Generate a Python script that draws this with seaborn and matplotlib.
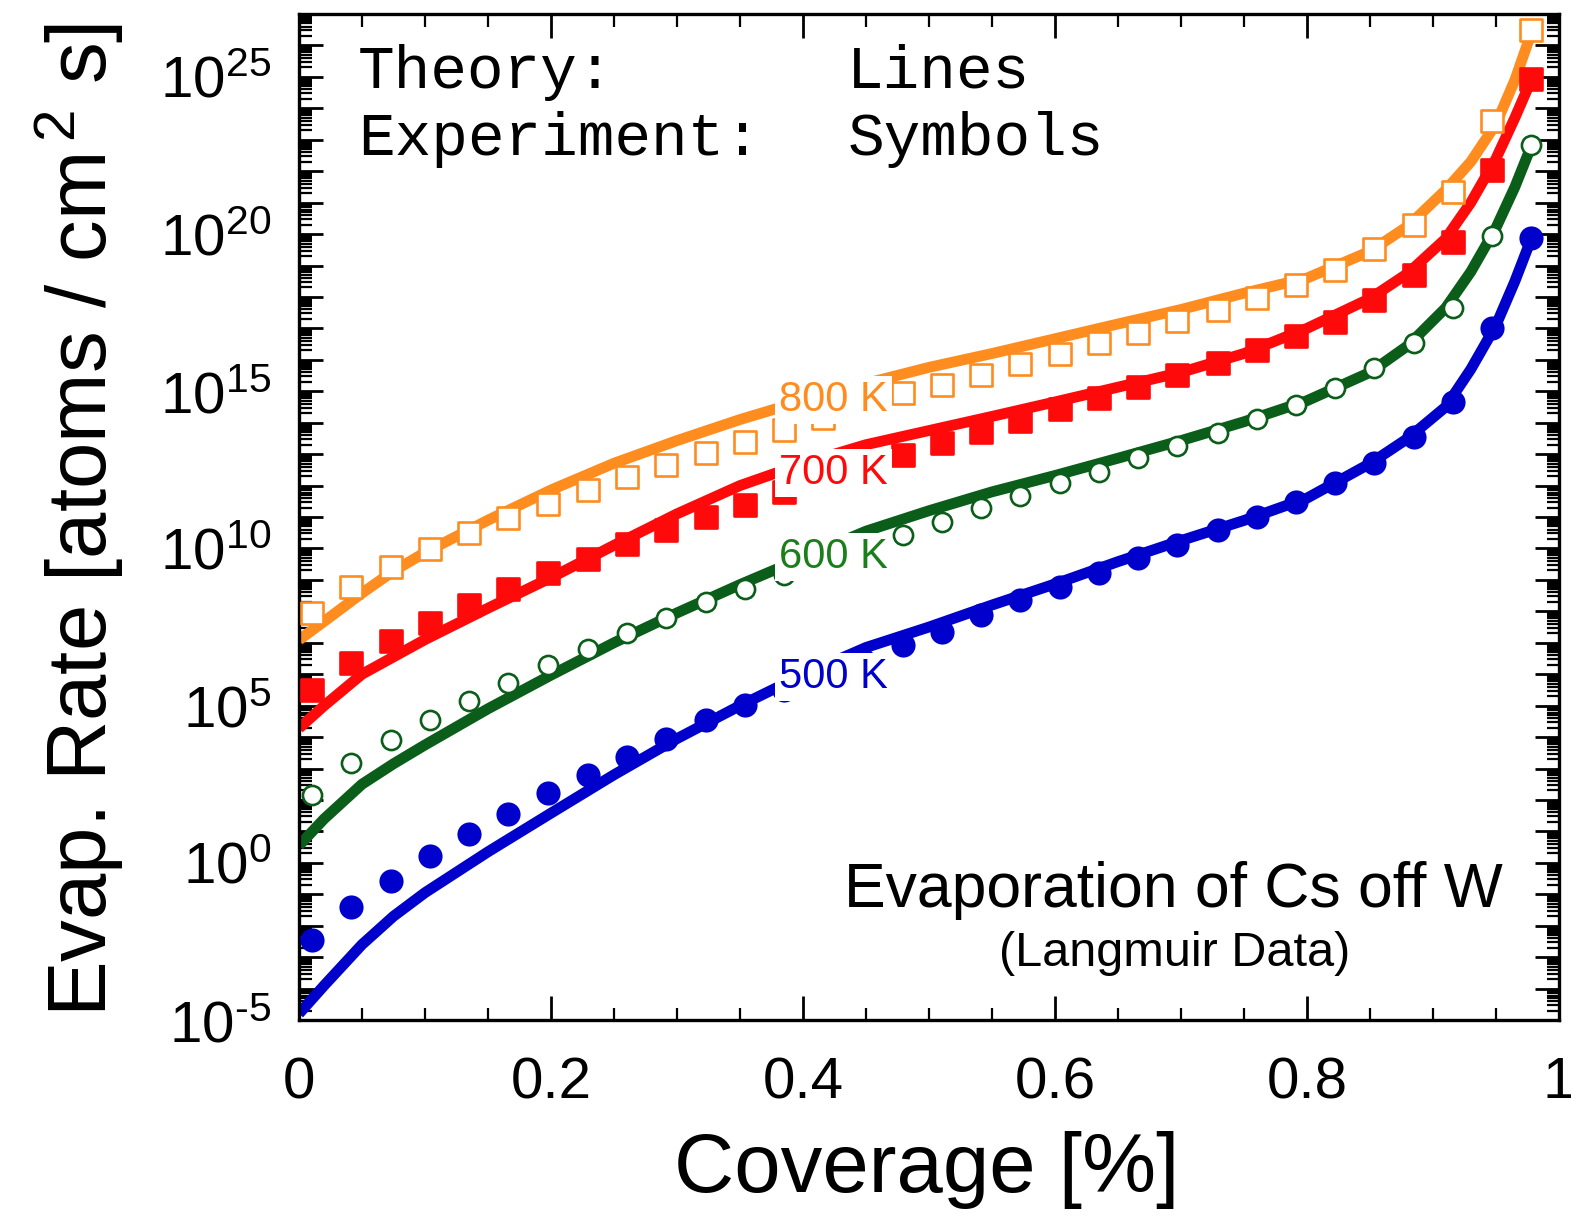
import numpy as np
import pandas as pd
import matplotlib
matplotlib.use('Agg')
import matplotlib.pyplot as plt
import seaborn as sns
from matplotlib.ticker import LogLocator, FuncFormatter, MultipleLocator, NullFormatter

# ---------------- data (log10 of evaporation rate) ----------------
marker_x = [0.010, 0.041, 0.073, 0.104, 0.135, 0.166, 0.198, 0.229, 0.260, 0.291,
            0.323, 0.354, 0.385, 0.416, 0.448, 0.479, 0.510, 0.541, 0.572, 0.604,
            0.635, 0.666, 0.697, 0.729, 0.760, 0.791, 0.822, 0.853, 0.885, 0.916,
            0.947, 0.978]
orange_pts = [7.95, 8.77, 9.41, 9.98, 10.49, 10.97, 11.42, 11.86, 12.28, 12.66,
              13.04, 13.39, 13.76, 14.14, 14.55, 14.94, 15.21, 15.53, 15.88, 16.19,
              16.54, 16.86, 17.25, 17.60, 17.98, 18.39, 18.87, 19.51, 20.30, 21.35,
              23.61, 26.48]
red_pts = [5.49, 6.35, 7.05, 7.63, 8.20, 8.71, 9.22, 9.67, 10.14, 10.59,
           11.00, 11.39, 11.80, 12.18, 12.60, 12.98, 13.36, 13.71, 14.06, 14.44,
           14.79, 15.14, 15.53, 15.91, 16.32, 16.75, 17.21, 17.91, 18.71, 19.76,
           22.05, 24.92]
green_pts = [2.15, 3.17, 3.90, 4.54, 5.14, 5.72, 6.29, 6.80, 7.31, 7.79,
             8.30, 8.71, 9.16, 9.57, 10.02, 10.43, 10.84, 11.29, 11.67, 12.09,
             12.44, 12.88, 13.26, 13.68, 14.12, 14.57, 15.11, 15.75, 16.54, 17.66,
             19.95, 22.82]
blue_pts = [-2.47, -1.42, -0.59, 0.21, 0.91, 1.54, 2.21, 2.79, 3.36, 3.93,
            4.54, 5.02, 5.49, 5.97, 6.45, 6.93, 7.34, 7.88, 8.36, 8.77,
            9.22, 9.70, 10.11, 10.59, 11.00, 11.48, 12.09, 12.72, 13.55, 14.67,
            17.02, 19.89]

line_x = [0.0, 0.02, 0.05, 0.075, 0.10, 0.15, 0.20, 0.25, 0.30, 0.35, 0.40, 0.45, 0.50,
          0.55, 0.60, 0.65, 0.70, 0.75, 0.80, 0.85, 0.88, 0.91, 0.93, 0.95, 0.965, 0.978]
orange_line = [7.09, 7.68, 8.58, 9.28, 9.87, 10.90, 11.86, 12.71, 13.43, 14.10, 14.70, 15.25, 15.76,
               16.20, 16.67, 17.14, 17.60, 18.12, 18.60, 19.45, 20.25, 21.40, 22.30, 23.50, 24.90, 26.40]
red_line = [4.28, 5.00, 6.00, 6.55, 7.10, 8.10, 9.07, 10.10, 11.10, 12.00, 12.70, 13.30, 13.75,
            14.20, 14.66, 15.13, 15.60, 16.20, 17.00, 17.95, 18.75, 19.85, 21.00, 22.40, 23.70, 24.90]
green_line = [0.55, 1.40, 2.50, 3.15, 3.75, 4.90, 5.97, 7.00, 7.95, 8.85, 9.70, 10.55, 11.20,
              11.80, 12.32, 12.87, 13.43, 14.03, 14.70, 15.60, 16.45, 17.65, 18.80, 20.20, 21.50, 22.80]
blue_line = [-4.80, -3.90, -2.60, -1.70, -0.95, 0.35, 1.58, 2.80, 3.95, 5.00, 5.98, 6.85, 7.50,
             8.20, 8.87, 9.58, 10.25, 10.89, 11.60, 12.70, 13.50, 14.50, 15.70, 17.10, 18.50, 19.85]

temps = ['800 K', '700 K', '600 K', '500 K']
label_log = [14.73, 12.40, 9.73, 5.91]

# ---------------- styling ----------------
sns.set_style('white')
plt.rcParams['font.family'] = ['Liberation Sans', 'DejaVu Sans']
plt.rcParams['mathtext.fontset'] = 'custom'
plt.rcParams['mathtext.rm'] = 'Liberation Sans'
plt.rcParams['mathtext.it'] = 'Liberation Sans:italic'
plt.rcParams['mathtext.bf'] = 'Liberation Sans:bold'
plt.rcParams['text.color'] = 'black'
plt.rcParams['xtick.color'] = 'black'
plt.rcParams['ytick.color'] = 'black'
plt.rcParams['axes.labelcolor'] = 'black'

c_orange = '#FF8C1E'
c_red = '#FF0A0A'
c_green = '#0B5E1A'
c_blue = '#0000CC'
label_colors = [c_orange, c_red, '#1A7F1A', c_blue]

fig = plt.figure(figsize=(15.71, 12.18), dpi=100)
ax = fig.add_axes([299/1571, 1-1020/1218, 1260/1571, 1006/1218])
ax.set_yscale('log')

series = [
    (orange_line, orange_pts, c_orange, 's', 'white', 250),
    (red_line, red_pts, c_red, 's', c_red, 270),
    (green_line, green_pts, c_green, 'o', 'white', 190),
    (blue_line, blue_pts, c_blue, 'o', c_blue, 240),
]

for line, pts, col, mk, face, size in series:
    sns.lineplot(x=line_x, y=10**np.array(line), color=col, linewidth=7.8,
                 ax=ax, zorder=2, solid_capstyle='butt', solid_joinstyle='round')
    sns.scatterplot(x=marker_x, y=10**np.array(pts), marker=mk, s=size,
                    color=face, edgecolor=col, linewidth=1.9, ax=ax, zorder=3,
                    clip_on=False)

for t, lv, col in zip(temps, label_log, label_colors):
    ax.text(0.381, 10**lv, t, color=col, fontsize=30, ha='left', va='center',
            zorder=5, bbox=dict(facecolor='white', edgecolor='none', pad=3))

ax.set_xlim(0, 1)
ax.set_ylim(1e-5, 1e27)

ax.xaxis.set_major_locator(MultipleLocator(0.2))
ax.xaxis.set_minor_locator(MultipleLocator(0.05))
ax.xaxis.set_major_formatter(FuncFormatter(lambda v, p: '%g' % round(v, 3)))

ax.yaxis.set_major_locator(LogLocator(base=10, subs=(1.0,), numticks=200))
ax.yaxis.set_minor_locator(LogLocator(base=10, subs=np.arange(2, 10), numticks=200))
def yfmt(v, p):
    e = int(round(np.log10(v)))
    if e % 5 != 0:
        return ''
    if e < 0:
        return r'$\mathregular{10^{\text{-}%d}}$' % (-e)
    return r'$\mathregular{10^{%d}}$' % e
ax.yaxis.set_major_formatter(FuncFormatter(yfmt))
ax.yaxis.set_minor_formatter(NullFormatter())

ax.tick_params(which='both', direction='in', top=True, right=True, bottom=True,
               left=True, color='black', labelcolor='black')
ax.tick_params(which='major', length=17, width=2.0, labelsize=42)
ax.tick_params(which='minor', length=9, width=1.6)
ax.tick_params(axis='x', which='major', pad=26)
ax.tick_params(axis='y', which='major', pad=20)

for s in ax.spines.values():
    s.set_visible(True)
    s.set_linewidth(2.4)
    s.set_color('black')

ax.set_xlabel('')
ax.set_ylabel('')
fig.text(927/1571, 1-1170/1218, 'Coverage [%]', fontsize=60, ha='center', va='center')
fig.text(80/1571, 1-520/1218, r'Evap. Rate [atoms / cm$^{\,2}$ s]', fontsize=60,
         rotation=90, ha='center', va='center')

ax.text(0.0468, 0.942, 'Theory:', transform=ax.transAxes, family='Liberation Mono',
        fontsize=44, va='center', ha='left')
ax.text(0.435, 0.942, 'Lines', transform=ax.transAxes, family='Liberation Mono',
        fontsize=44, va='center', ha='left')
ax.text(0.0468, 0.875, 'Experiment:', transform=ax.transAxes, family='Liberation Mono',
        fontsize=44, va='center', ha='left')
ax.text(0.435, 0.875, 'Symbols', transform=ax.transAxes, family='Liberation Mono',
        fontsize=44, va='center', ha='left')

ax.text(0.9556, 0.129, 'Evaporation of Cs off W', transform=ax.transAxes,
        fontsize=45, ha='right', va='center')
ax.text(0.695, 0.0666, '(Langmuir Data)', transform=ax.transAxes,
        fontsize=35, ha='center', va='center')

fig.savefig('out.png', dpi=100)
